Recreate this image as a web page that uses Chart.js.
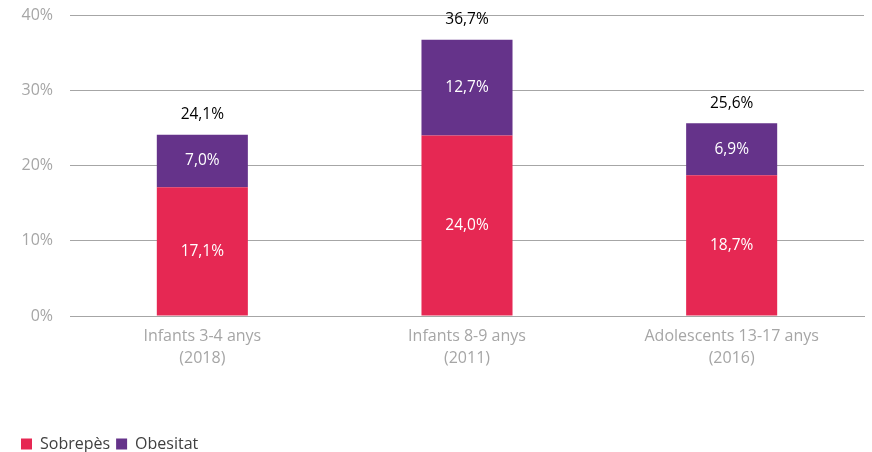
<!DOCTYPE html>
<html>
<head>
<meta charset="utf-8">
<script src="https://cdn.jsdelivr.net/npm/chart.js@4"></script>
<style>
    html, body { margin: 0; padding: 0; background: #fff; }
    #wrap { width: 872px; height: 452px; }
</style>
</head>
<body>
<div id="wrap"><canvas id="chart"></canvas></div>
<script>
// Chart data
const categories = [['Infants 3-4 anys', '(2018)'], ['Infants 8-9 anys', '(2011)'], ['Adolescents 13-17 anys', '(2016)']];
const sobrepes = [17.1, 24.0, 18.7];
const obesitat = [7.0, 12.7, 6.9];
const totals = [24.1, 36.7, 25.6];
const yTicks = [0, 10, 20, 30, 40];

const FONT = '"Open Sans", sans-serif';
const fmt = v => v.toFixed(1).replace('.', ',') + '%';

// Draw the value labels inside the segments and the totals above the bars
const labelPlugin = {
    id: 'barLabels',
    afterDatasetsDraw(chart) {
        const ctx = chart.ctx;
        ctx.save();
        ctx.font = '15.5px ' + FONT;
        ctx.textAlign = 'center';
        ctx.textBaseline = 'middle';
        chart.data.datasets.forEach((ds, i) => {
            chart.getDatasetMeta(i).data.forEach((bar, j) => {
                const mid = (bar.y + bar.base) / 2;
                ctx.fillStyle = '#ffffff';
                ctx.fillText(fmt(ds.data[j]), bar.x, mid);
            });
        });
        const top = chart.getDatasetMeta(1).data;
        const y = chart.scales.y;
        top.forEach((bar, j) => {
            ctx.fillStyle = '#000000';
            ctx.fillText(fmt(totals[j]), bar.x, y.getPixelForValue(totals[j]) - 20);
        });
        ctx.restore();
    }
};

new Chart(document.getElementById('chart'), {
    type: 'bar',
    data: {
        labels: categories,
        datasets: [
            { label: 'Sobrepès', data: sobrepes, backgroundColor: '#E62853' },
            { label: 'Obesitat', data: obesitat, backgroundColor: '#65338A' }
        ]
    },
    options: {
        responsive: true,
        maintainAspectRatio: false,
        animation: false,
        layout: { padding: { top: 15, left: 15, right: 8, bottom: -10 } },
        datasets: { bar: { categoryPercentage: 1, barPercentage: 0.344 } },
        scales: {
            x: {
                stacked: true,
                grid: { display: false, drawTicks: false },
                border: { color: '#a6a6a6' },
                ticks: { color: '#a6a6a6', padding: 9, font: { family: FONT, size: 16, lineHeight: 1.4 } },
                afterFit: s => { s.height = 114; }
            },
            y: {
                stacked: true,
                min: 0,
                max: 40,
                afterBuildTicks: s => { s.ticks = yTicks.map(v => ({ value: v })); },
                grid: { color: '#a6a6a6', drawTicks: false },
                border: { display: false },
                ticks: { color: '#a6a6a6', padding: 17, font: { family: FONT, size: 16 }, callback: v => v + '%' },
                afterFit: s => { s.width = 55; s.paddingTop = 0; s.paddingBottom = 0; }
            }
        },
        plugins: {
            legend: {
                position: 'bottom',
                align: 'start',
                labels: { boxWidth: 11, boxHeight: 11, padding: 6, color: '#404040', font: { family: FONT, size: 16 } }
            },
            tooltip: { enabled: false }
        }
    },
    plugins: [labelPlugin]
});
</script>
</body>
</html>
